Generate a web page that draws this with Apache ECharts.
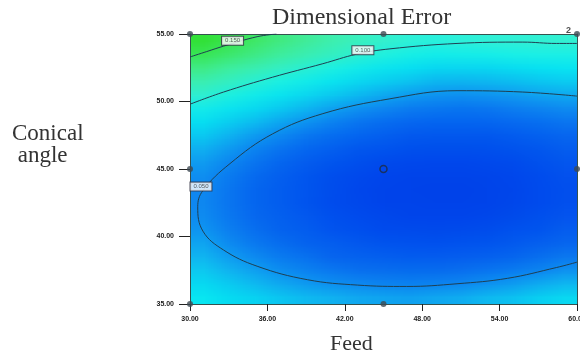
<!DOCTYPE html>
<html lang="en" style="height: 100%">
<head>
  <meta charset="utf-8">
  <script type="text/javascript" src="https://cdn.jsdelivr.net/npm/echarts@6/dist/echarts.min.js"></script>
</head>
<body style="height: 100%; margin: 0; background: #fff">
  <div style="position: relative; width: 580px; height: 354px">
    <!-- colour field: one canvas pixel per cell, scaled up to the plot area so the browser smooths it -->
    <div id="heat" style="position: absolute; left: 190px; top: 34px; width: 15px; height: 20px; transform-origin: 0 0; transform: scale(25.8, 13.5)"></div>
    <div id="main" style="position: absolute; left: 0; top: 0; width: 580px; height: 354px"></div>
  </div>

  <script type="text/javascript">
  // cell centres of the colour field
  var feedCells = [31, 33, 35, 37, 39, 41, 43, 45, 47, 49, 51, 53, 55, 57, 59];
  var angleCells = [35.5, 36.5, 37.5, 38.5, 39.5, 40.5, 41.5, 42.5, 43.5, 44.5,
                    45.5, 46.5, 47.5, 48.5, 49.5, 50.5, 51.5, 52.5, 53.5, 54.5];
  // dimensional error, one row per angle (bottom to top), columns follow feedCells
  var errorRows = [
    [0.084,0.079,0.073,0.069,0.065,0.062,0.060,0.059,0.058,0.059,0.061,0.064,0.068,0.072,0.077],
    [0.076,0.070,0.065,0.060,0.056,0.053,0.051,0.049,0.048,0.049,0.050,0.053,0.056,0.060,0.064],
    [0.069,0.063,0.057,0.052,0.048,0.045,0.042,0.041,0.040,0.040,0.041,0.043,0.046,0.049,0.053],
    [0.063,0.056,0.051,0.046,0.042,0.038,0.035,0.034,0.032,0.032,0.033,0.035,0.037,0.040,0.044],
    [0.058,0.051,0.045,0.040,0.036,0.033,0.030,0.028,0.026,0.026,0.027,0.028,0.030,0.033,0.037],
    [0.054,0.047,0.041,0.036,0.032,0.028,0.025,0.023,0.022,0.021,0.022,0.023,0.025,0.027,0.031],
    [0.051,0.044,0.038,0.033,0.029,0.025,0.022,0.020,0.018,0.018,0.018,0.019,0.021,0.023,0.027],
    [0.049,0.042,0.036,0.031,0.027,0.023,0.020,0.018,0.016,0.016,0.016,0.017,0.018,0.021,0.024],
    [0.049,0.042,0.036,0.031,0.026,0.022,0.019,0.017,0.016,0.015,0.015,0.016,0.018,0.020,0.023],
    [0.050,0.043,0.037,0.031,0.027,0.023,0.020,0.018,0.016,0.016,0.016,0.017,0.018,0.021,0.024],
    [0.053,0.046,0.040,0.034,0.029,0.026,0.022,0.020,0.018,0.018,0.018,0.019,0.020,0.022,0.026],
    [0.058,0.051,0.044,0.039,0.034,0.030,0.026,0.024,0.022,0.021,0.021,0.022,0.023,0.026,0.029],
    [0.065,0.058,0.051,0.045,0.040,0.036,0.032,0.029,0.027,0.026,0.025,0.026,0.028,0.030,0.033],
    [0.075,0.066,0.060,0.053,0.048,0.043,0.039,0.036,0.033,0.032,0.031,0.032,0.034,0.036,0.039],
    [0.086,0.078,0.070,0.064,0.057,0.052,0.047,0.044,0.041,0.039,0.038,0.039,0.041,0.043,0.046],
    [0.100,0.091,0.083,0.076,0.069,0.063,0.058,0.053,0.050,0.048,0.047,0.047,0.049,0.051,0.054],
    [0.116,0.106,0.097,0.089,0.082,0.076,0.069,0.065,0.061,0.057,0.056,0.057,0.059,0.061,0.064],
    [0.134,0.123,0.114,0.105,0.097,0.090,0.083,0.077,0.073,0.069,0.067,0.068,0.070,0.072,0.075],
    [0.154,0.142,0.132,0.123,0.113,0.106,0.098,0.092,0.086,0.081,0.082,0.083,0.085,0.087,0.089],
    [0.176,0.163,0.152,0.142,0.132,0.123,0.114,0.107,0.101,0.097,0.099,0.100,0.101,0.102,0.103]
  ];

  // contour lines
  var feed050 = [60, 55.8, 50.7, 45.5, 40.3, 36.4, 33.1, 31.0, 30.6, 31.0, 32.6, 35.2, 39.1, 43.0, 46.8, 50.7, 54.6, 58.4, 60];
  var angle050 = [50.4, 50.7, 50.8, 50.2, 49.1, 47.6, 45.4, 43.4, 42.2, 40.4, 39.0, 37.8, 36.8, 36.4, 36.3, 36.5, 36.9, 37.7, 38.1];
  var feed100 = [30, 32.6, 36.4, 40.3, 42.9, 45.5, 50.7, 55.8, 58.4, 60];
  var angle100 = [49.8, 50.7, 51.8, 52.8, 53.5, 53.9, 54.3, 54.4, 54.3, 54.3];
  var feed150 = [30, 31.3, 32.6, 35.2, 36.7];
  var angle150 = [53.3, 53.7, 54.1, 54.8, 55];

  var contourNames = ['0.150', '0.100', '0.050'];
  var labelFeed = [33.3, 43.4, 30.85];
  var labelAngle = [54.5, 53.8, 43.7];

  // design points
  var designFeed = [30, 45, 60, 30, 45, 60, 30, 45];
  var designAngle = [55, 55, 55, 45, 45, 45, 35, 35];
  var designRuns = ['', '', '2', '', '', '', '', ''];

  var heatChart = echarts.init(document.getElementById('heat'), null, { devicePixelRatio: 1 });
  var chart = echarts.init(document.getElementById('main'));

  var heat = [];
  for (var j = 0; j < angleCells.length; j++) {
    for (var i = 0; i < feedCells.length; i++) {
      heat.push([i, j, errorRows[j][i]]);
    }
  }
  function pairs(xs, ys) {
    var out = [];
    for (var k = 0; k < xs.length; k++) out.push([xs[k], ys[k]]);
    return out;
  }
  var labelPts = [];
  for (var k = 0; k < contourNames.length; k++) {
    labelPts.push({ value: [labelFeed[k], labelAngle[k]], name: contourNames[k] });
  }
  var designPts = [];
  for (var k = 0; k < designFeed.length; k++) {
    var centre = designFeed[k] == 45 && designAngle[k] == 45;
    designPts.push({
      value: [designFeed[k], designAngle[k]],
      name: designRuns[k],
      symbolSize: centre ? 7 : 6,
      itemStyle: centre ? { color: 'rgba(0,0,0,0)', borderColor: '#1e2c40', borderWidth: 1.5 } : { color: '#3d4a52' }
    });
  }

  heatChart.setOption({
    animation: false,
    grid: { left: 0, right: 0, top: 0, bottom: 0, outerBoundsMode: 'none' },
    xAxis: { type: 'category', data: feedCells, show: false },
    yAxis: { type: 'category', data: angleCells, show: false },
    visualMap: {
      show: false, min: 0, max: 0.2,
      inRange: { color: ['#0036e4', '#003ee8', '#0454ee', '#0a6cf0', '#1090f0', '#10c0f0',
                         '#06e0f2', '#10eef0', '#30f0d8', '#3af0c0', '#40eea6', '#42ea88',
                         '#40e866', '#38e448', '#30e035', '#2cda28', '#30d020'] }
    },
    series: [{ type: 'heatmap', data: heat, itemStyle: { borderWidth: 0 } }]
  });

  var lineStyle = { color: '#1f3f52', width: 1 };
  var serif = '"Liberation Serif"';
  var frame = { show: true, lineStyle: { color: '#35524f' } };

  chart.setOption({
    animation: false,
    grid: { left: 190, right: 3, top: 34, bottom: 50, outerBoundsMode: 'none' },
    xAxis: [
      { type: 'value', min: 30, max: 60, interval: 6, position: 'bottom',
        splitLine: { show: false }, axisLine: frame,
        axisTick: { show: true, length: 7, lineStyle: { color: '#222' } },
        axisLabel: { margin: 12, fontSize: 7, fontWeight: 'bold', color: '#1a1a1a',
          fontFamily: 'Liberation Sans', formatter: function (v) { return v.toFixed(2); } } },
      { type: 'value', min: 30, max: 60, position: 'top',
        splitLine: { show: false }, axisTick: { show: false }, axisLabel: { show: false }, axisLine: frame }
    ],
    yAxis: [
      { type: 'value', min: 35, max: 55, interval: 5, position: 'left',
        splitLine: { show: false }, axisLine: frame,
        axisTick: { show: true, length: 11, lineStyle: { color: '#222' } },
        axisLabel: { margin: 16, fontSize: 7, fontWeight: 'bold', color: '#1a1a1a',
          fontFamily: 'Liberation Sans', formatter: function (v) { return v.toFixed(2); } } },
      { type: 'value', min: 35, max: 55, position: 'right',
        splitLine: { show: false }, axisTick: { show: false }, axisLabel: { show: false }, axisLine: frame }
    ],
    series: [
      { type: 'line', data: pairs(feed150, angle150), smooth: 0.4, symbol: 'none', lineStyle: lineStyle },
      { type: 'line', data: pairs(feed100, angle100), smooth: 0.4, symbol: 'none', lineStyle: lineStyle },
      { type: 'line', data: pairs(feed050, angle050), smooth: 0.4, symbol: 'none', lineStyle: lineStyle },
      { type: 'scatter', data: labelPts, symbolSize: 0, z: 5,
        label: { show: true, position: 'inside', formatter: '{b}', fontSize: 6, color: '#333',
          backgroundColor: '#fff', borderColor: '#334', borderWidth: 1, padding: [1, 3] } },
      { type: 'scatter', data: designPts, symbol: 'circle', z: 6,
        label: { show: true, position: [-8, -5], formatter: '{b}', fontSize: 9, fontWeight: 'bold', color: '#222' } }
    ],
    graphic: [
      { type: 'text', left: 272, top: 6, style: { text: 'Dimensional Error', font: '24px ' + serif, fill: '#333' } },
      { type: 'text', left: 330, top: 333, style: { text: 'Feed', font: '22px ' + serif, fill: '#333' } },
      { type: 'text', left: 12, top: 122, style: { text: 'Conical\n angle', font: '23px ' + serif, fill: '#333', lineHeight: 22 } }
    ]
  });
  </script>
</body>
</html>
